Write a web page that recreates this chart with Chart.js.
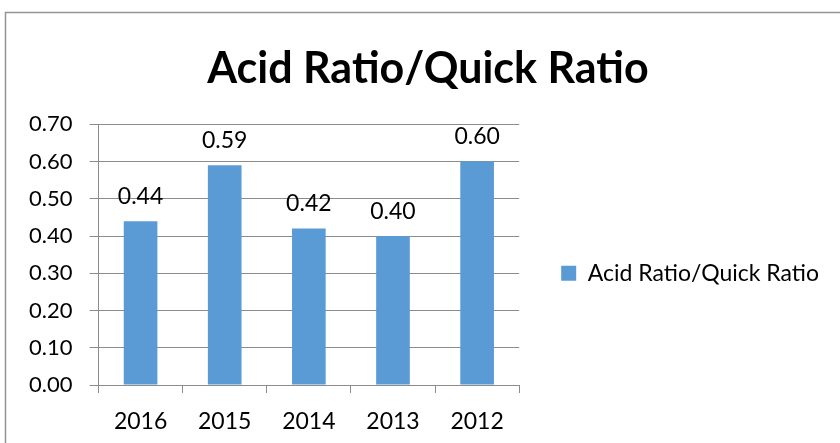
<!DOCTYPE html>
<html>
<head>
<meta charset="utf-8">
<script src="https://cdn.jsdelivr.net/npm/chart.js@4.4.1/dist/chart.umd.min.js"></script>
<style>
  html, body { margin: 0; padding: 0; background: #ffffff; overflow: hidden; }
  #wrap { width: 840px; height: 443px; position: relative; }
  canvas { display: block; }
</style>
</head>
<body>
<div id="wrap"><canvas id="c" width="840" height="443"></canvas></div>
<script>
// Quick ratio by fiscal year
const years = ['2016', '2015', '2014', '2013', '2012'];
const quickRatio = [0.44, 0.59, 0.42, 0.40, 0.60];
const seriesName = 'Acid Ratio/Quick Ratio';
const chartTitle = 'Acid Ratio/Quick Ratio';
const yTickMin = 0;
const yTickMax = 0.7;
const yTickStep = 0.1;

const BAR_BLUE = '#5b9bd5';
const GRID_GRAY = '#8c8c8c';
const TEXT_FONT = 'Lato, "Open Sans", "DejaVu Sans", sans-serif';

// Thin outer frame around the whole chart object
const framePlugin = {
  id: 'frame',
  beforeDraw(chart) {
    const ctx = chart.ctx;
    ctx.save();
    ctx.strokeStyle = '#949494';
    ctx.lineWidth = 1.5;
    ctx.strokeRect(5.5, 12.5, 2000, 2000);
    ctx.restore();
  }
};

// Value labels above each bar, placed from the bar elements themselves
const barValuePlugin = {
  id: 'barValues',
  afterDatasetsDraw(chart) {
    const ctx = chart.ctx;
    const meta = chart.getDatasetMeta(0);
    const values = chart.data.datasets[0].data;
    ctx.save();
    ctx.font = '23px ' + TEXT_FONT;
    ctx.fillStyle = '#000000';
    ctx.textAlign = 'center';
    ctx.textBaseline = 'alphabetic';
    meta.data.forEach((bar, i) => {
      ctx.fillText(values[i].toFixed(2), bar.x, bar.y - 17.5);
    });
    ctx.restore();
  }
};

// Centre the legend on the full frame rather than on the plot area
const legendNudgePlugin = {
  id: 'legendNudge',
  afterLayout(chart) {
    const lg = chart.legend;
    if (!lg) return;
    const d = 18.7;
    lg.top += d;
    lg.bottom += d;
  }
};

new Chart(document.getElementById('c'), {
  type: 'bar',
  data: {
    labels: years,
    datasets: [{
      label: seriesName,
      data: quickRatio,
      backgroundColor: BAR_BLUE,
      borderWidth: 0,
      categoryPercentage: 1.0,
      barPercentage: 0.4
    }]
  },
  options: {
    responsive: false,
    animation: false,
    devicePixelRatio: 1,
    layout: { padding: { left: 27, right: 11, top: 0, bottom: 0 } },
    plugins: {
      title: {
        display: true,
        text: chartTitle,
        color: '#000000',
        font: { family: TEXT_FONT, size: 43, weight: 'bold', lineHeight: 1.2 },
        padding: { top: 43.6, bottom: 29.1 }
      },
      legend: {
        display: true,
        position: 'right',
        fullSize: false,
        align: 'center',
        maxWidth: 500,
        labels: {
          color: '#000000',
          font: { family: TEXT_FONT, size: 23 },
          boxWidth: 15,
          boxHeight: 15,
          padding: 42
        }
      },
      tooltip: { enabled: false }
    },
    scales: {
      x: {
        grid: {
          display: true,
          drawOnChartArea: false,
          drawTicks: true,
          offset: true,
          tickLength: 8,
          color: GRID_GRAY,
          lineWidth: 1
        },
        border: { display: true, color: GRID_GRAY, width: 1 },
        ticks: {
          color: '#000000',
          font: { family: TEXT_FONT, size: 23 },
          padding: 15,
          maxRotation: 0
        },
        afterFit(scale) { scale.height = 58; }
      },
      y: {
        min: yTickMin,
        max: yTickMax,
        grid: {
          display: true,
          drawOnChartArea: true,
          drawTicks: true,
          tickLength: 9,
          color: GRID_GRAY,
          lineWidth: 1
        },
        border: { display: true, color: GRID_GRAY, width: 1 },
        ticks: {
          stepSize: yTickStep,
          color: '#000000',
          font: { family: TEXT_FONT, size: 22 },
          padding: 17,
          callback: (v) => Number(v).toFixed(2)
        },
        afterFit(scale) { scale.width = 71.5; }
      }
    }
  },
  plugins: [framePlugin, barValuePlugin, legendNudgePlugin]
});
</script>
</body>
</html>
